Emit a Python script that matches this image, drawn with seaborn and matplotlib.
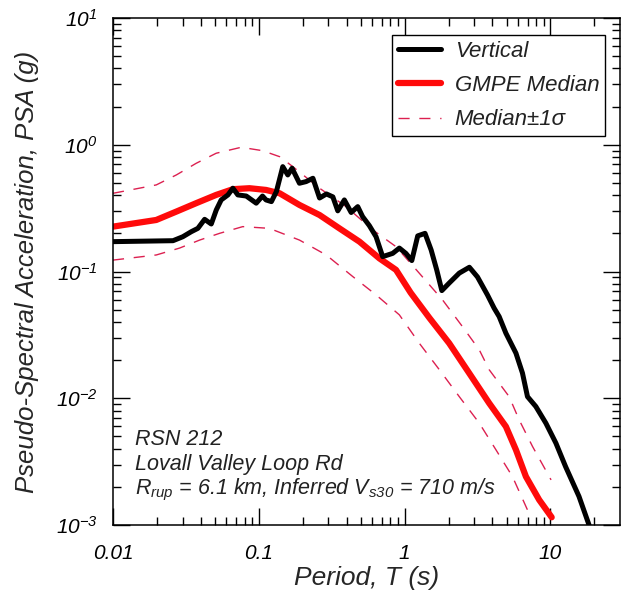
import numpy as np
import pandas as pd
import seaborn as sns
import matplotlib.pyplot as plt
from matplotlib.ticker import FixedLocator, FixedFormatter, NullLocator

# RSN 212 - vertical component response spectrum
vert_T = [0.01, 0.0258, 0.0301, 0.0344, 0.0382, 0.0425, 0.0472, 0.0511, 0.0552, 0.0614,
          0.0664, 0.0718, 0.082, 0.096, 0.106, 0.112, 0.122, 0.132, 0.146, 0.158,
          0.169, 0.190, 0.211, 0.235, 0.261, 0.291, 0.322, 0.348, 0.386, 0.430,
          0.477, 0.515, 0.573, 0.637, 0.707, 0.828, 0.920, 1.02, 1.12, 1.23,
          1.38, 1.52, 1.66, 1.80, 2.02, 2.37, 2.78, 3.16, 3.70, 4.11,
          4.45, 4.95, 5.80, 6.43, 6.96, 7.94, 9.30, 10.9, 12.7, 15.7, 18.4]
vert_psa = [0.172, 0.175, 0.188, 0.206, 0.219, 0.258, 0.237, 0.306, 0.367, 0.402,
            0.454, 0.402, 0.394, 0.346, 0.394, 0.367, 0.356, 0.427, 0.672, 0.578,
            0.653, 0.497, 0.512, 0.544, 0.380, 0.409, 0.388, 0.301, 0.367, 0.292,
            0.325, 0.271, 0.230, 0.188, 0.131, 0.139, 0.153, 0.139, 0.122, 0.191,
            0.200, 0.148, 0.103, 0.0707, 0.0810, 0.0971, 0.108, 0.0906, 0.0653, 0.0514,
            0.0441, 0.0326, 0.0227, 0.0158, 0.0103, 0.00861, 0.00637, 0.00443, 0.00289, 0.00168, 0.00100]

# GMPE median and +/- 1 sigma
med_T = [0.01, 0.0198, 0.0272, 0.0372, 0.051, 0.0664, 0.0863, 0.112, 0.139, 0.190,
         0.261, 0.357, 0.490, 0.671, 0.873, 1.1, 1.48, 2.02, 2.77, 3.80,
         4.95, 5.80, 6.79, 8.37, 10.2]
med_psa = [0.226, 0.255, 0.297, 0.346, 0.402, 0.446, 0.454, 0.440, 0.414, 0.335,
           0.279, 0.219, 0.172, 0.127, 0.103, 0.068, 0.043, 0.0272, 0.0158, 0.00915,
           0.00598, 0.00392, 0.00241, 0.00158, 0.00115]

up_T = [0.01, 0.0198, 0.0272, 0.0372, 0.051, 0.0757, 0.106, 0.139, 0.171, 0.261,
        0.397, 0.604, 0.873, 1.26, 1.82, 2.49, 3.25, 3.80, 5.21, 6.10, 7.54, 10.1]
up_psa = [0.414, 0.482, 0.578, 0.714, 0.857, 0.955, 0.898, 0.805, 0.672, 0.454,
          0.325, 0.213, 0.157, 0.097, 0.0597, 0.0368, 0.0241, 0.0168, 0.0103, 0.00676, 0.00416, 0.00227]

lo_T = [0.01, 0.0198, 0.0286, 0.0393, 0.0538, 0.0776, 0.118, 0.190, 0.290, 0.441,
        0.637, 0.920, 1.26, 1.73, 2.37, 3.25, 4.23, 5.49, 6.95]
lo_psa = [0.123, 0.135, 0.153, 0.177, 0.200, 0.226, 0.219, 0.177, 0.135, 0.0912,
          0.0654, 0.0455, 0.0272, 0.0168, 0.0103, 0.00637, 0.00392, 0.00241, 0.00132]

xtick_vals = [0.01, 0.1, 1, 10]
xtick_labels = ['0.01', '0.1', '1', '10']
ytick_vals = [1e-3, 1e-2, 1e-1, 1e0, 1e1]
ytick_labels = [r'$10^{-3}$', r'$10^{-2}$', r'$10^{-1}$', r'$10^{0}$', r'$10^{1}$']

# minor ticks at 2..9 within every decade
x_minor = [m * d for d in [0.01, 0.1, 1, 10] for m in range(2, 10) if m * d < 30]
y_minor = [m * d for d in [1e-3, 1e-2, 1e-1, 1e0] for m in range(2, 10)]

sns.set_theme(style='ticks')
plt.rcParams['font.family'] = ['Liberation Sans', 'DejaVu Sans']
plt.rcParams['font.style'] = 'italic'
plt.rcParams['mathtext.fontset'] = 'custom'
plt.rcParams['mathtext.rm'] = 'Liberation Sans:italic'
plt.rcParams['mathtext.it'] = 'Liberation Sans:italic'
plt.rcParams['mathtext.default'] = 'it'
plt.rcParams['axes.edgecolor'] = 'black'
plt.rcParams['xtick.color'] = 'black'
plt.rcParams['ytick.color'] = 'black'
plt.rcParams['text.color'] = '#222222'

dash_col = '#dc2050'

fig = plt.figure(figsize=(6.21, 5.99), dpi=100)
ax = fig.add_axes([113 / 621, 1 - 525 / 599, 507 / 621, 507 / 599])

sns.lineplot(x=up_T, y=up_psa, ax=ax, color=dash_col, lw=1.0, linestyle=(0, (8, 7)),
             estimator=None, sort=False, label='Median\u00b11\u03c3')
sns.lineplot(x=lo_T, y=lo_psa, ax=ax, color=dash_col, lw=1.0, linestyle=(0, (8, 7)),
             estimator=None, sort=False)
sns.lineplot(x=med_T, y=med_psa, ax=ax, color='#ff0a0a', lw=4.5,
             estimator=None, sort=False, label='GMPE Median')
sns.lineplot(x=vert_T, y=vert_psa, ax=ax, color='black', lw=3.6,
             estimator=None, sort=False, label='Vertical')

ax.set_xscale('log')
ax.set_yscale('log')
ax.set_xlim(0.01, 30)
ax.set_ylim(1e-3, 10)


# all ticks (labelled decades + unlabelled 2..9) on one locator, short ones trimmed below
def set_log_ticks(axis, major, labels, minor):
    lab = dict(zip(major, labels))
    locs = sorted(major + minor)
    axis.set_major_locator(FixedLocator(locs))
    axis.set_major_formatter(FixedFormatter([lab.get(v, '') for v in locs]))
    axis.set_minor_locator(NullLocator())


set_log_ticks(ax.xaxis, xtick_vals, xtick_labels, x_minor)
set_log_ticks(ax.yaxis, ytick_vals, ytick_labels, y_minor)

for s in ax.spines.values():
    s.set_linewidth(1.1)
ax.tick_params(which='both', direction='in', top=True, right=True, width=1.0)
ax.tick_params(which='major', length=12, labelsize=15)
ax.tick_params(axis='x', which='major', pad=14)
ax.tick_params(axis='y', which='major', pad=11)

ax.set_xlabel('Period, T (s)', fontsize=19, labelpad=2)
ax.set_ylabel('Pseudo-Spectral Acceleration, PSA (g)', fontsize=18.5, labelpad=12)

handles, labels = ax.get_legend_handles_labels()
order = [labels.index(k) for k in ['Vertical', 'GMPE Median', 'Median\u00b11\u03c3']]
leg = ax.legend([handles[i] for i in order], [labels[i] for i in order],
                loc='upper right', bbox_to_anchor=(0.970, 0.966), borderaxespad=0,
                fontsize=16, handlelength=1.95, handletextpad=0.6, labelspacing=0.6,
                borderpad=0.25, fancybox=False, framealpha=1, edgecolor='black')
leg.get_frame().set_linewidth(1.0)

ax.text(0.043, 0.158, 'RSN 212', transform=ax.transAxes, fontsize=15.5, va='baseline')
ax.text(0.043, 0.108, 'Lovall Valley Loop Rd', transform=ax.transAxes, fontsize=15.5, va='baseline')
ax.text(0.043, 0.061, r'$R_{rup}$ = 6.1 km, Inferred $V_{s30}$ = 710 m/s',
        transform=ax.transAxes, fontsize=15.5, va='baseline')

fig.canvas.draw()
for axis, major in ((ax.xaxis, xtick_vals), (ax.yaxis, ytick_vals)):
    for tick in axis.get_major_ticks():
        if not np.any(np.isclose(tick.get_loc(), major, rtol=1e-6)):
            tick.tick1line.set_markersize(6)
            tick.tick2line.set_markersize(6)

fig.savefig('out.png', dpi=100)
